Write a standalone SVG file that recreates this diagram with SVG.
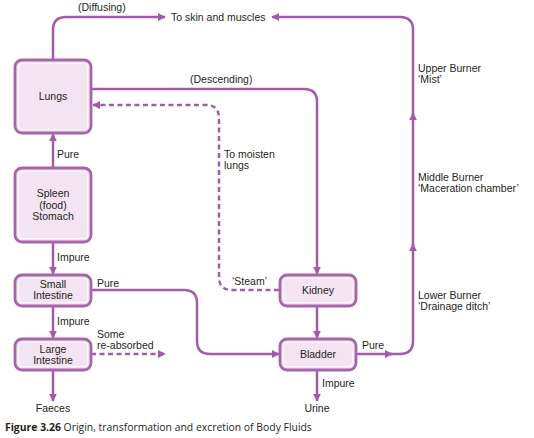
<svg xmlns="http://www.w3.org/2000/svg" width="534" height="438" viewBox="0 0 534 438">
<defs>
<marker id="ah" viewBox="0 0 10 10" refX="9" refY="5" markerWidth="8" markerHeight="8" markerUnits="userSpaceOnUse" orient="auto">
<path d="M0,0 L10,5 L0,10 z" fill="#a35ba8"/>
</marker>
<style>
text{font-family:"Liberation Sans",Arial,sans-serif;font-size:10.5px;fill:#231f20}
.c{text-anchor:middle}
.ln{fill:none;stroke:#a35ba8;stroke-width:2.5;marker-end:url(#ah)}
.d{stroke-dasharray:5 3.5}
.nb{fill:#f2e4f0;stroke:#a864ab;stroke-width:2.8}
.ni{fill:none;stroke:#fdf8fc;stroke-width:1.2}
.cap{font-family:"Open Sans","Liberation Sans",sans-serif;font-size:10.4px}
</style>
</defs>
<rect width="534" height="438" fill="#ffffff"/>
<g id="connectors">
<path class="ln" d="M53,59 V30 Q53,17 66,17 H165"/>
<path class="ln" d="M91,89 H304 Q317,89 317,102 V274"/>
<path class="ln d" d="M279,290 H232 Q219,290 219,277 V118 Q219,105 206,105 H93"/>
<path class="ln" d="M53,167 V134"/>
<path class="ln" d="M53,242 V274"/>
<path class="ln" d="M53,306 V338"/>
<path class="ln" d="M53,370 V401"/>
<path class="ln d" d="M91,354 H165"/>
<path class="ln" d="M91,290 H184 Q197,290 197,303 V341 Q197,354 210,354 H279"/>
<path class="ln" d="M317,306 V338"/>
<path class="ln" d="M317,370 V401"/>
<path class="ln" d="M356,354 H392"/>
<path class="ln" d="M390,354 H400 Q413,354 413,341 V244"/>
<path class="ln" d="M413,246 V113"/>
<path class="ln" d="M413,115 V30 Q413,17 400,17 H272"/>
</g>
<g id="lungs">
<rect class="nb" x="15" y="60" width="76" height="73" rx="7"/>
<rect class="ni" x="18.5" y="63.5" width="69" height="66" rx="4"/>
<text class="c" x="53" y="100">Lungs</text>
</g>
<g id="spleen">
<rect class="nb" x="15" y="168" width="76" height="74" rx="7"/>
<rect class="ni" x="18.5" y="171.5" width="69" height="67" rx="4"/>
<text class="c" x="53" y="197">Spleen</text>
<text class="c" x="53" y="208.5">(food)</text>
<text class="c" x="53" y="220">Stomach</text>
</g>
<g id="small-intestine">
<rect class="nb" x="15" y="275" width="76" height="31" rx="7"/>
<rect class="ni" x="18.5" y="278.5" width="69" height="24" rx="4"/>
<text class="c" x="53" y="288">Small</text>
<text class="c" x="53" y="299">Intestine</text>
</g>
<g id="large-intestine">
<rect class="nb" x="15" y="339" width="76" height="31" rx="7"/>
<rect class="ni" x="18.5" y="342.5" width="69" height="24" rx="4"/>
<text class="c" x="53" y="353">Large</text>
<text class="c" x="53" y="364">Intestine</text>
</g>
<g id="kidney">
<rect class="nb" x="280" y="275" width="76" height="31" rx="7"/>
<rect class="ni" x="283.5" y="278.5" width="69" height="24" rx="4"/>
<text class="c" x="318" y="294">Kidney</text>
</g>
<g id="bladder">
<rect class="nb" x="280" y="339" width="76" height="31" rx="7"/>
<rect class="ni" x="283.5" y="342.5" width="69" height="24" rx="4"/>
<text class="c" x="318" y="358">Bladder</text>
</g>
<g id="labels">
<text x="78" y="11">(Diffusing)</text>
<text x="171" y="21">To skin and muscles</text>
<text x="190" y="83">(Descending)</text>
<text x="224" y="158">To moisten</text>
<text x="224" y="169">lungs</text>
<text x="232" y="285">‘Steam’</text>
<text x="57" y="158">Pure</text>
<text x="57" y="261">Impure</text>
<text x="97" y="287">Pure</text>
<text x="57" y="325">Impure</text>
<text x="97" y="338">Some</text>
<text x="97" y="349">re-absorbed</text>
<text class="c" x="53" y="412">Faeces</text>
<text x="322" y="387">Impure</text>
<text class="c" x="317" y="412">Urine</text>
<text x="362" y="349">Pure</text>
<text x="418" y="72">Upper Burner</text>
<text x="418" y="83">‘Mist’</text>
<text x="418" y="181">Middle Burner</text>
<text x="418" y="192">‘Maceration chamber’</text>
<text x="418" y="299">Lower Burner</text>
<text x="418" y="310">‘Drainage ditch’</text>
</g>
<text class="cap" x="5" y="431"><tspan font-weight="bold">Figure 3.26</tspan>  Origin, transformation and excretion of Body Fluids</text>
</svg>
